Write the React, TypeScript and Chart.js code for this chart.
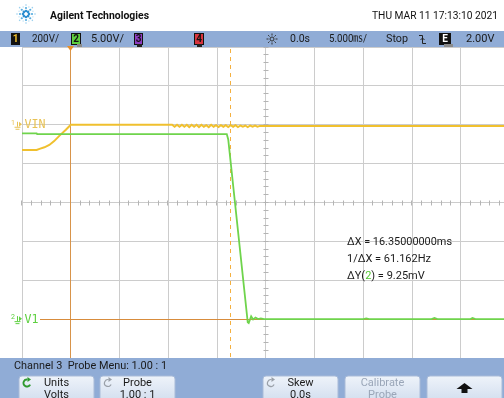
import React, { useEffect, useRef } from "react";
import { Chart, registerables } from "chart.js";

Chart.register(...registerables);

// ---------------- data ----------------
const TIME_MIN_MS = -25;
const TIME_MAX_MS = 24.43;
const TIME_GRID_MS = [-25, -20, -15, -10, -5, 0, 5, 10, 15, 20];
const DIV_GRID = [-4, -3, -2, -1, 0, 1, 2, 3, 4];

// Channel 1 (VIN), in screen divisions
const vinTimeMs = [
  -25, -23.5, -23.2, -22.7, -22.2, -21.7, -21.15, -20.5, -20, -9.6,
  -9.35, -9.1, -8.85, -8.6, -8.35, -8.1, -7.85, -7.6, -7.35, -7.1,
  -6.85, -6.6, -6.35, -6.1, -5.85, -5.6, -5.35, -5.1, -4.85, -4.6,
  -4.35, -4.1, -3.85, -3.6, -3.35, -3.1, -2.85, -2.6, -2.35, -2.1,
  -1.85, -1.6, -1.35, -1.1, -0.85, -0.6, 5, 24.43,
];
const vinDiv = [
  1.35, 1.35, 1.38, 1.42, 1.48, 1.58, 1.72, 1.87, 2.0, 2.0,
  1.95, 2.0, 1.95, 2.0, 1.95, 2.0, 1.94, 2.0, 1.95, 2.0,
  1.94, 2.0, 1.95, 1.99, 1.94, 2.0, 1.95, 1.99, 1.94, 1.99,
  1.95, 1.99, 1.94, 1.99, 1.95, 1.99, 1.94, 1.98, 1.95, 1.98,
  1.94, 1.98, 1.95, 1.98, 1.95, 1.97, 1.97, 1.97,
];

// Channel 2 (V1), in screen divisions
const v1TimeMs = [
  -25, -23.5, -23.45, -4.0, -3.85, -1.85, -1.75, -1.5, -1.3, -1.05,
  -0.8, -0.5, -0.2, 10, 10.3, 10.6, 17, 17.3, 17.6, 21, 21.2, 21.5, 24.43,
];
const v1Div = [
  1.78, 1.78, 1.76, 1.76, 1.62, -3.08, -3.1, -2.93, -3.01, -2.96,
  -3.0, -2.98, -3.0, -3.0, -2.98, -3.0, -3.0, -2.97, -3.0, -3.0, -2.97, -3.0, -3.0,
];

const CURSOR_X1_MS = -20;
const CURSOR_X2_MS = -3.65;
const CURSOR_Y_DIV = -3;
const VIN_REF_DIV = 2;
const V1_REF_DIV = -3;

const headerTitle = "Agilent Technologies";
const headerDate = "THU MAR 11 17:13:10 2021";
const statusTexts = ["200V/", "5.00V/", "0.0s", "5.000\u33B3/", "Stop", "2.00V"];
const channelBoxes = ["1", "2", "3", "4", "E"];
const measureLines = ["\u0394X = 16.35000000ms", "1/\u0394X = 61.162Hz"];
const measureDy = ["\u0394Y(", "2", ") = 9.25mV"];
const menuTitle = "Channel 3  Probe Menu: 1.00 : 1";
const softkeyTop = ["Units", "Probe", "", "Skew", "Calibrate", ""];
const softkeyBottom = ["Volts", "1.00 : 1", "", "0.0s", "Probe", ""];

// ---------------- style ----------------
const BAR_BLUE = "#90acd6";
const YELLOW = "#f0c02e";
const GREEN = "#6fd44c";
const ORANGE = "#d8944a";
const ORANGE_DASH = "#f4b040";
const UI_FONT = "Roboto, 'Noto Sans CJK SC', sans-serif";

function align(p: number) {
  return Math.round(p - 0.5) + 0.5;
}

function rr(ctx: CanvasRenderingContext2D, x: number, y: number, w: number, h: number, r: number) {
  ctx.beginPath();
  ctx.moveTo(x + r, y);
  ctx.arcTo(x + w, y, x + w, y + h, r);
  ctx.arcTo(x + w, y + h, x, y + h, r);
  ctx.arcTo(x, y + h, x, y, r);
  ctx.arcTo(x, y, x + w, y, r);
  ctx.closePath();
}

const scopePlugin = {
  id: "scope",
  beforeDraw(chart: any) {
    const ctx = chart.ctx as CanvasRenderingContext2D;
    ctx.save();
    ctx.fillStyle = "#ffffff";
    ctx.fillRect(0, 0, chart.width, chart.height);
    ctx.restore();
  },
  beforeDatasetsDraw(chart: any) {
    const ctx = chart.ctx as CanvasRenderingContext2D;
    const xs = chart.scales.x;
    const ys = chart.scales.y;
    const a = chart.chartArea;
    ctx.save();
    // minor ticks on center lines
    ctx.strokeStyle = "#b4b4b4";
    ctx.lineWidth = 1;
    const cx = align(xs.getPixelForValue(0));
    const cy = align(ys.getPixelForValue(0));
    const dyDiv = (ys.getPixelForValue(0) - ys.getPixelForValue(1)) / 5;
    for (let i = -20; i <= 20; i++) {
      const y = align(cy + i * dyDiv);
      ctx.beginPath();
      ctx.moveTo(cx - 2, y);
      ctx.lineTo(cx + 3, y);
      ctx.stroke();
    }
    const dxDiv = (xs.getPixelForValue(5) - xs.getPixelForValue(0)) / 5;
    for (let i = -25; i <= 25; i++) {
      const x = align(cx + i * dxDiv);
      ctx.beginPath();
      ctx.moveTo(x, cy - 2);
      ctx.lineTo(x, cy + 3);
      ctx.stroke();
    }
    // cursors
    const x1 = align(xs.getPixelForValue(CURSOR_X1_MS));
    ctx.strokeStyle = ORANGE;
    ctx.beginPath();
    ctx.moveTo(x1, a.top);
    ctx.lineTo(x1, a.bottom);
    ctx.stroke();
    const yc = align(ys.getPixelForValue(CURSOR_Y_DIV));
    ctx.strokeStyle = "#d88c3c";
    ctx.beginPath();
    ctx.moveTo(40, yc);
    ctx.lineTo(a.right, yc);
    ctx.stroke();
    const x2 = align(xs.getPixelForValue(CURSOR_X2_MS));
    ctx.strokeStyle = ORANGE_DASH;
    ctx.setLineDash([4, 4]);
    ctx.beginPath();
    ctx.moveTo(x2, a.top + 2);
    ctx.lineTo(x2, a.bottom);
    ctx.stroke();
    ctx.setLineDash([]);
    ctx.restore();
  },
  afterDraw(chart: any) {
    const ctx = chart.ctx as CanvasRenderingContext2D;
    const xs = chart.scales.x;
    const ys = chart.scales.y;
    const W = chart.width;
    ctx.save();

    // ---------- header ----------
    ctx.fillStyle = "#ffffff";
    ctx.fillRect(0, 0, W, 31);
    const lx = 26, ly = 14;
    for (let k = 0; k < 8; k++) {
      const ang = (k * Math.PI) / 4;
      [[3, 1.3], [6, 1.1], [9, 0.8]].forEach(([r, s], j) => {
        ctx.fillStyle = j === 0 ? "#2f8fd0" : j === 1 ? "#55acdf" : "#9bd0ee";
        ctx.beginPath();
        ctx.arc(lx + Math.cos(ang) * r, ly + Math.sin(ang) * r, s, 0, Math.PI * 2);
        ctx.fill();
      });
    }
    for (let k = 0; k < 8; k++) {
      const ang = (k * Math.PI) / 4 + Math.PI / 8;
      ctx.fillStyle = "#b5dcf2";
      ctx.beginPath();
      ctx.arc(lx + Math.cos(ang) * 7.5, ly + Math.sin(ang) * 7.5, 0.7, 0, Math.PI * 2);
      ctx.fill();
    }
    ctx.fillStyle = "#111";
    ctx.textBaseline = "middle";
    ctx.textAlign = "left";
    ctx.font = `bold 11px ${UI_FONT}`;
    ctx.fillText(headerTitle, 50, 16, 99);
    ctx.font = `11px ${UI_FONT}`;
    ctx.textAlign = "right";
    ctx.fillText(headerDate, 498, 16, 126);

    // ---------- status bar ----------
    ctx.fillStyle = BAR_BLUE;
    ctx.fillRect(0, 31, W, 16);
    const boxes = [
      { x: 12, w: 7, fill: "#111", fg: YELLOW },
      { x: 72, w: 8, fill: "#5fcf3e", fg: "#111" },
      { x: 135, w: 7, fill: "#8e3cc0", fg: "#111" },
      { x: 195, w: 8, fill: "#d8343e", fg: "#111" },
      { x: 440, w: 10, fill: "#111", fg: "#fff" },
    ];
    ctx.textAlign = "center";
    ctx.font = `bold 10px ${UI_FONT}`;
    boxes.forEach((b, i) => {
      ctx.fillStyle = "#111";
      ctx.fillRect(b.x - 1, 33, b.w + 2, 12);
      ctx.fillStyle = b.fill;
      ctx.fillRect(b.x, 34, b.w, 10);
      ctx.fillStyle = b.fg;
      ctx.fillText(channelBoxes[i], b.x + b.w / 2, 39.5);
    });
    ctx.fillStyle = "#1a1a1a";
    ctx.textAlign = "left";
    ctx.font = `11px ${UI_FONT}`;
    const stPos = [
      [32, 27], [91, 33], [290, 20], [329, 38], [386, 22], [466, 32],
    ];
    statusTexts.forEach((t, i) => {
      ctx.fillText(t, stPos[i][0], 39.5, stPos[i][1]);
    });
    // sun icon
    ctx.strokeStyle = "#333";
    ctx.lineWidth = 1;
    ctx.beginPath();
    ctx.arc(272, 39, 2, 0, Math.PI * 2);
    ctx.stroke();
    for (let k = 0; k < 8; k++) {
      const ang = (k * Math.PI) / 4;
      ctx.beginPath();
      ctx.moveTo(272 + Math.cos(ang) * 3.5, 39 + Math.sin(ang) * 3.5);
      ctx.lineTo(272 + Math.cos(ang) * 5.5, 39 + Math.sin(ang) * 5.5);
      ctx.stroke();
    }
    // trigger edge symbol
    ctx.strokeStyle = "#222";
    ctx.beginPath();
    ctx.moveTo(419, 35.5);
    ctx.lineTo(422.5, 35.5);
    ctx.lineTo(422.5, 43.5);
    ctx.lineTo(426, 43.5);
    ctx.stroke();
    ctx.beginPath();
    ctx.moveTo(420.5, 40);
    ctx.lineTo(422.5, 38);
    ctx.lineTo(424.5, 40);
    ctx.stroke();
    // position markers on bar edge
    ctx.fillStyle = "#8a8a8a";
    ctx.fillRect(77, 44, 5, 3);
    ctx.fillRect(444, 44, 9, 3);
    ctx.fillStyle = "#222";
    ctx.fillRect(137, 44, 5, 3);
    ctx.fillRect(197, 44, 5, 3);
    // trigger position marker
    const tx = align(xs.getPixelForValue(CURSOR_X1_MS));
    ctx.fillStyle = "#e8902a";
    ctx.beginPath();
    ctx.moveTo(tx - 3.5, 46);
    ctx.lineTo(tx + 3.5, 46);
    ctx.lineTo(tx, 51);
    ctx.closePath();
    ctx.fill();

    // ---------- channel labels ----------
    const drawRef = (yv: number, num: string, name: string, color: string) => {
      const y = ys.getPixelForValue(yv);
      ctx.fillStyle = color;
      ctx.strokeStyle = color;
      ctx.font = `7px ${UI_FONT}`;
      ctx.textAlign = "left";
      ctx.fillText(num, 11, y - 1.5);
      ctx.lineWidth = 1;
      ctx.beginPath();
      ctx.moveTo(17.5, y - 3);
      ctx.lineTo(17.5, y + 2);
      ctx.moveTo(14.5, y + 2.5);
      ctx.lineTo(20.5, y + 2.5);
      ctx.moveTo(15.5, y + 4.5);
      ctx.lineTo(19.5, y + 4.5);
      ctx.stroke();
      ctx.beginPath();
      ctx.moveTo(19, y - 3);
      ctx.lineTo(22, y - 0.5);
      ctx.lineTo(19, y + 2);
      ctx.closePath();
      ctx.fill();
      ctx.font = `12px 'DejaVu Sans Mono', monospace`;
      ctx.fillText(name, 24.5, y + 0.5, name.length * 7);
    };
    drawRef(VIN_REF_DIV, "1", "VIN", "#e8c254");
    drawRef(V1_REF_DIV, "2", "V1", "#5ed040");

    // ---------- measurements ----------
    ctx.font = `11px ${UI_FONT}`;
    ctx.textAlign = "left";
    ctx.fillStyle = "#1a1a1a";
    ctx.fillText(measureLines[0], 347, 242.5, 105);
    ctx.fillText(measureLines[1], 347, 259.5, 84);
    let mx = 347;
    measureDy.forEach((part, i) => {
      ctx.fillStyle = i === 1 ? "#52c832" : "#1a1a1a";
      ctx.fillText(part, mx, 276.5);
      mx += ctx.measureText(part).width;
    });

    // ---------- bottom menu ----------
    ctx.fillStyle = BAR_BLUE;
    ctx.fillRect(0, 358, W, 40);
    ctx.fillStyle = "#1a1a1a";
    ctx.font = `11px ${UI_FONT}`;
    ctx.fillText(menuTitle, 14, 366.5, 153);
    const keyX = [19, 100, 182, 263, 345, 427];
    keyX.forEach((kx, i) => {
      if (i === 2) return;
      const g = ctx.createLinearGradient(0, 376, 0, 398);
      g.addColorStop(0, "#eef3fa");
      g.addColorStop(1, "#d6e1f0");
      rr(ctx, kx, 376, 75, 30, 3);
      ctx.fillStyle = g;
      ctx.fill();
      ctx.strokeStyle = "#a9bbd8";
      ctx.lineWidth = 1;
      ctx.stroke();
      const cxk = kx + 37.5;
      ctx.textAlign = "center";
      ctx.fillStyle = i === 4 ? "#9aa6b8" : "#1a1a1a";
      ctx.font = `11px ${UI_FONT}`;
      if (softkeyTop[i]) ctx.fillText(softkeyTop[i], cxk, 383.5);
      if (softkeyBottom[i]) ctx.fillText(softkeyBottom[i], cxk, 395);
      if (i === 0 || i === 1 || i === 3) {
        const icx = kx + 8, icy = 383;
        ctx.strokeStyle = i === 0 ? "#2f9a2f" : "#9aa0a8";
        ctx.lineWidth = i === 0 ? 2 : 1.2;
        ctx.beginPath();
        ctx.arc(icx, icy, 3.5, Math.PI * 0.15, Math.PI * 1.55);
        ctx.stroke();
        ctx.fillStyle = ctx.strokeStyle;
        ctx.beginPath();
        ctx.moveTo(icx + 0.5, icy - 6);
        ctx.lineTo(icx + 4, icy - 3.5);
        ctx.lineTo(icx + 0.5, icy - 1);
        ctx.closePath();
        ctx.fill();
      }
      if (i === 5) {
        ctx.fillStyle = "#111";
        ctx.beginPath();
        ctx.moveTo(cxk, 383);
        ctx.lineTo(cxk + 8, 389);
        ctx.lineTo(cxk + 3, 389);
        ctx.lineTo(cxk + 3, 393);
        ctx.lineTo(cxk - 3, 393);
        ctx.lineTo(cxk - 3, 389);
        ctx.lineTo(cxk - 8, 389);
        ctx.closePath();
        ctx.fill();
      }
    });
    ctx.restore();
  },
};

export default function App() {
  const ref = useRef<HTMLCanvasElement | null>(null);
  useEffect(() => {
    document.body.style.margin = "0";
    const canvas = ref.current;
    if (!canvas) return;
    const chart = new Chart(canvas, {
      type: "line",
      data: {
        datasets: [
          {
            label: "V1",
            data: v1TimeMs.map((t, i) => ({ x: t, y: v1Div[i] })),
            borderColor: GREEN,
            borderWidth: 1.8,
            pointRadius: 0,
            tension: 0,
          },
          {
            label: "VIN",
            data: vinTimeMs.map((t, i) => ({ x: t, y: vinDiv[i] })),
            borderColor: YELLOW,
            borderWidth: 2,
            pointRadius: 0,
            tension: 0,
          },
        ],
      },
      options: {
        animation: false,
        responsive: false,
        devicePixelRatio: 1,
        layout: { padding: { left: 22, top: 47, right: 0, bottom: 40 } },
        plugins: {
          legend: { display: false },
          tooltip: { enabled: false },
          title: { display: false },
        },
        scales: {
          x: {
            type: "linear",
            min: TIME_MIN_MS,
            max: TIME_MAX_MS,
            afterBuildTicks: (s: any) => {
              s.ticks = TIME_GRID_MS.map((v) => ({ value: v }));
            },
            ticks: { display: false },
            grid: {
              color: (c: any) => (c.tick && c.tick.value === CURSOR_X1_MS ? "rgba(0,0,0,0)" : "#cccccc"),
              lineWidth: 1,
              drawTicks: false,
            },
            border: { display: false },
          },
          y: {
            type: "linear",
            min: -4,
            max: 4,
            afterBuildTicks: (s: any) => {
              s.ticks = DIV_GRID.map((v) => ({ value: v }));
            },
            ticks: { display: false },
            grid: {
              color: (c: any) => (c.tick && c.tick.value === CURSOR_Y_DIV ? "rgba(0,0,0,0)" : "#cccccc"),
              lineWidth: 1,
              drawTicks: false,
            },
            border: { display: false },
          },
        },
      },
      plugins: [scopePlugin],
    } as any);
    return () => chart.destroy();
  }, []);
  return (
    <canvas
      ref={ref}
      width={504}
      height={398}
      style={{ display: "block", width: 504, height: 398 }}
    />
  );
}
